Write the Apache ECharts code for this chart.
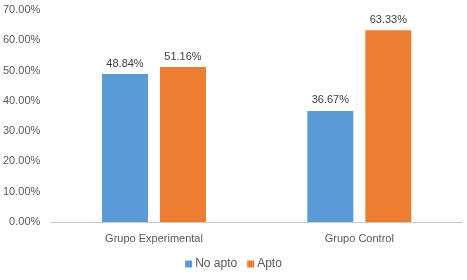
<!DOCTYPE html>
<html>
<head>
  <meta charset="utf-8">
  <style>
    html, body { margin: 0; padding: 0; width: 100%; height: 100%; overflow: hidden; background: #fff; }
  </style>
  <script src="https://cdn.jsdelivr.net/npm/echarts@6/dist/echarts.min.js"></script>
</head>
<body>
  <div id="container" style="width: 467px; height: 280px;"></div>
  <script>
    // datos
    const categories = ["Grupo Experimental", "Grupo Control"];
    const noApto = [48.84, 36.67];
    const apto = [51.16, 63.33];
    const yTicks = [0, 10, 20, 30, 40, 50, 60, 70];

    var myChart = echarts.init(document.getElementById('container'), null, { renderer: 'canvas' });
    var font = "'Liberation Sans', Arial, sans-serif";

    var labelStyle = {
      show: true,
      position: 'top',
      distance: 5,
      color: '#404040',
      fontSize: 11,
      fontFamily: font,
      formatter: (p) => p.value.toFixed(2) + '%'
    };

    var option = {
      color: ['#5B9BD5', '#ED7D31'],
      animation: false,
      grid: { left: 51, right: 5, top: 10, bottom: 58 },
      legend: {
        bottom: 5,
        left: 'center',
        icon: 'rect',
        itemWidth: 7,
        itemHeight: 7,
        itemGap: 10,
        textStyle: { color: '#595959', fontSize: 12, fontFamily: font, padding: [0, 0, 0, -2] },
        data: ['No apto', 'Apto']
      },
      xAxis: {
        type: 'category',
        data: categories,
        axisLine: { lineStyle: { color: '#BFBFBF', type: 'dotted' } },
        axisTick: { show: false },
        axisLabel: { color: '#595959', fontSize: 11, fontFamily: font, margin: 11 }
      },
      yAxis: {
        type: 'value',
        min: yTicks[0],
        max: yTicks[yTicks.length - 1],
        interval: 10,
        splitLine: { show: false },
        axisLine: { show: false },
        axisTick: { show: false },
        axisLabel: {
          color: '#595959', fontSize: 11, fontFamily: font, margin: 11,
          formatter: (v) => v.toFixed(2) + '%'
        }
      },
      series: [
        { name: 'No apto', type: 'bar', data: noApto, barWidth: 46, barGap: '26%', label: labelStyle },
        { name: 'Apto', type: 'bar', data: apto, barWidth: 46, barGap: '26%', label: labelStyle }
      ]
    };
    myChart.setOption(option);
  </script>
</body>
</html>
